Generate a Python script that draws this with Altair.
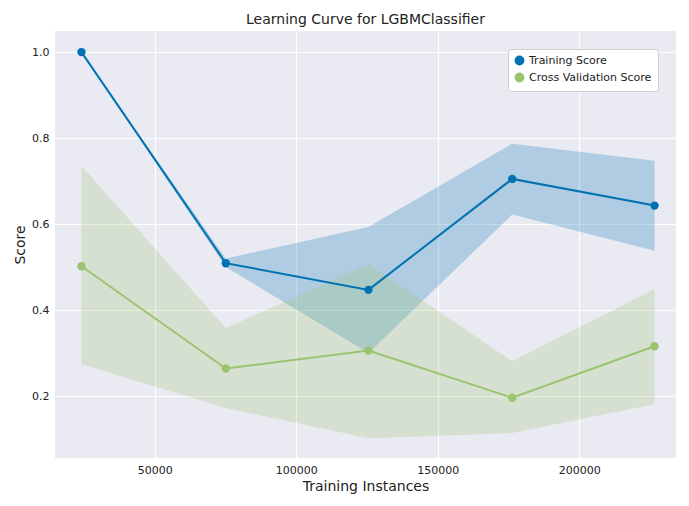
import altair as alt
import pandas as pd

x_vals = [24100, 75100, 125500, 176300, 226600]
train = [1.0, 0.509, 0.447, 0.705, 0.643]
train_hi = [1.0, 0.52, 0.593, 0.787, 0.747]
train_lo = [1.0, 0.50, 0.30, 0.622, 0.538]
cv = [0.502, 0.264, 0.306, 0.196, 0.316]
cv_hi = [0.735, 0.358, 0.507, 0.281, 0.449]
cv_lo = [0.274, 0.172, 0.102, 0.114, 0.181]
names = ["Training Score", "Cross Validation Score"]
colors = ["#0072B2", "#9BC46F"]

rows = []
for i, x in enumerate(x_vals):
    rows.append(dict(x=x, y=train[i], lo=train_lo[i], hi=train_hi[i], s=names[0]))
    rows.append(dict(x=x, y=cv[i], lo=cv_lo[i], hi=cv_hi[i], s=names[1]))
df = pd.DataFrame(rows)

xs = alt.Scale(domain=[14748, 234170], nice=False, zero=False)
ys = alt.Scale(domain=[0.056, 1.049], nice=False, zero=False)
leg = alt.Legend(title=None, orient="top-right", symbolType="circle",
                 fillColor="white", padding=6, cornerRadius=3,
                 labelFontSize=11, symbolSize=70, strokeColor="#cccccc",
                 symbolOpacity=1)
col = alt.Color("s:N", scale=alt.Scale(domain=names, range=colors), legend=leg)

base = alt.Chart(df)
band = base.mark_area(opacity=0.25).encode(
    x=alt.X("x:Q", scale=xs, title="Training Instances",
            axis=alt.Axis(values=[50000, 100000, 150000, 200000], format="d")),
    y=alt.Y("lo:Q", scale=ys, title="Score",
            axis=alt.Axis(values=[0.2, 0.4, 0.6, 0.8, 1.0], format=".1f")),
    y2="hi:Q",
    color=col,
)
line = base.mark_line(strokeWidth=2, point=alt.OverlayMarkDef(size=70, filled=True, opacity=1)).encode(
    x=alt.X("x:Q", scale=xs), y=alt.Y("y:Q", scale=ys), color=col)

chart = alt.layer(band, line).properties(
    width=673, height=490,
    autosize=alt.AutoSizeParams(type="fit", contains="padding"),
    title=alt.Title("Learning Curve for LGBMClassifier", fontSize=14, fontWeight="normal",
                    font="DejaVu Sans", color="#222"),
).configure(background="white").configure_view(fill="#EAEAF2", stroke=None).configure_axis(
    grid=True, gridColor="white", gridWidth=1.2, domain=False, ticks=False,
    labelFont="DejaVu Sans", titleFont="DejaVu Sans", labelFontSize=11,
    titleFontSize=14, titleFontWeight="normal", labelColor="#222", titleColor="#222",
    labelPadding=6,
).configure_legend(labelFont="DejaVu Sans", labelColor="#222")

chart.save("out.html", embed_options={"renderer": "svg", "actions": False})
